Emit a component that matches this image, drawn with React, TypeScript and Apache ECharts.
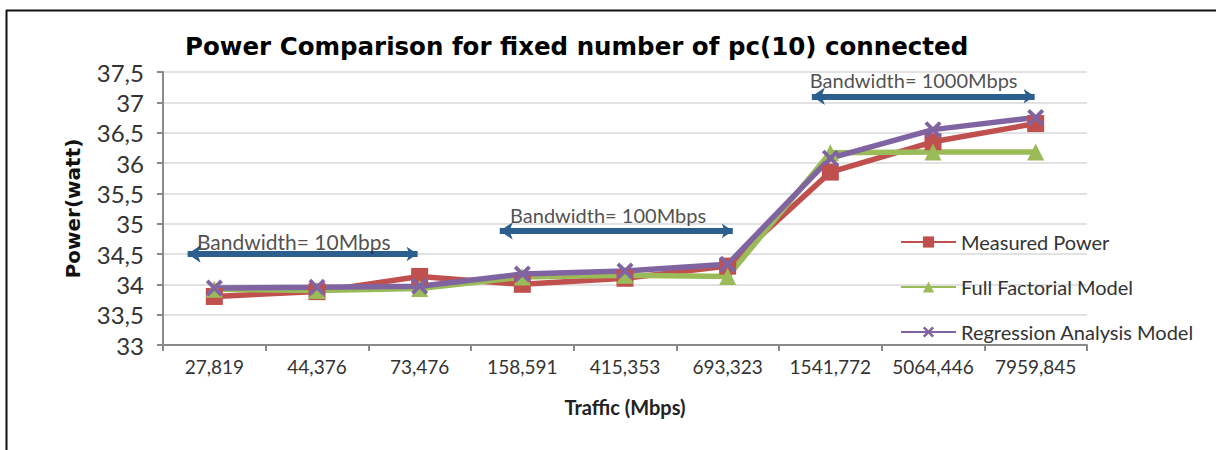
import React, { useEffect, useRef } from "react";
import * as echarts from "echarts";

const categories = ["27,819", "44,376", "73,476", "158,591", "415,353", "693,323", "1541,772", "5064,446", "7959,845"];
const measuredPower = [33.8, 33.88, 34.13, 34.0, 34.1, 34.3, 35.85, 36.35, 36.65];
const fullFactorial = [33.92, 33.9, 33.93, 34.12, 34.15, 34.13, 36.17, 36.18, 36.18];
const regression = [33.94, 33.95, 33.97, 34.17, 34.22, 34.33, 36.08, 36.55, 36.75];

// bandwidth annotations: [startX, endX, y] in category-span units (0..9) and watts
const bandLabels = ["Bandwidth= 10Mbps", "Bandwidth= 100Mbps", "Bandwidth= 1000Mbps"];
const bandStart = [0.24, 3.28, 6.32];
const bandEnd = [2.48, 5.55, 8.49];
const bandY = [34.5, 34.88, 37.1];
const bandTextX = [0.33, 3.38, 6.3];
const bandTextY = [34.71, 35.14, 37.37];
const bandFontSize = [21, 20, 20];

const FONT = "Lato, 'Open Sans', sans-serif";
const WIDE = "'DejaVu Sans', Verdana, sans-serif";
const X_SYMBOL =
  "path://M0,1.6 L1.6,0 L5,3.4 L8.4,0 L10,1.6 L6.6,5 L10,8.4 L8.4,10 L5,6.6 L1.6,10 L0,8.4 L3.4,5 Z";

export default function App() {
  const ref = useRef<HTMLDivElement>(null);
  useEffect(() => {
    document.body.style.margin = "0";
    const chart = echarts.init(ref.current!, null, { renderer: "svg" });
    const arrowColor = "#2D5F8E";
    chart.setOption({
      animation: false,
      backgroundColor: "#ffffff",
      title: {
        text: "Power Comparison for fixed number of pc(10) connected",
        left: 180,
        top: 29,
        textStyle: { fontFamily: WIDE, fontWeight: "bold", fontSize: 24.5, color: "#000" },
      },
      graphic: [
        { type: "line", shape: { x1: 6, y1: 10.5, x2: 1216, y2: 10.5 }, style: { stroke: "#111", lineWidth: 2 } },
        { type: "line", shape: { x1: 6.5, y1: 10, x2: 6.5, y2: 450 }, style: { stroke: "#111", lineWidth: 2 } },
      ],
      legend: {
        data: ["Measured Power", "Full Factorial Model", "Regression Analysis Model"],
        orient: "vertical",
        left: 900,
        top: 232,
        padding: 0,
        itemWidth: 55,
        itemHeight: 14,
        itemGap: 25,
        textStyle: { fontFamily: FONT, fontSize: 20, color: "#333" },
      },
      grid: { left: 163, right: 129, top: 72, bottom: 105, containLabel: false },
      xAxis: [
        {
          type: "category",
          data: categories,
          boundaryGap: true,
          name: "Traffic (Mbps)",
          nameLocation: "middle",
          nameGap: 52,
          nameTextStyle: { fontFamily: FONT, fontWeight: "bold", fontSize: 20, color: "#222" },
          axisLine: { lineStyle: { color: "#8a8a8a", width: 2 } },
          axisTick: { show: true, length: 6, lineStyle: { color: "#8a8a8a", width: 2 } },
          axisLabel: { interval: 0, fontFamily: FONT, fontSize: 19, color: "#333", margin: 12 },
        },
        { type: "value", min: 0, max: 9, show: false },
      ],
      yAxis: {
        type: "value",
        min: 33,
        max: 37.5,
        interval: 0.5,
        name: "Power(watt)",
        nameLocation: "middle",
        nameRotate: 90,
        nameGap: 80,
        nameTextStyle: { fontFamily: WIDE, fontWeight: "bold", fontSize: 20, color: "#111" },
        axisLine: { show: true, lineStyle: { color: "#8a8a8a", width: 2 } },
        axisTick: { show: true, length: 6, lineStyle: { color: "#8a8a8a", width: 2 } },
        axisLabel: {
          fontFamily: FONT,
          fontSize: 24,
          color: "#333",
          margin: 19,
          formatter: (v: number) => String(v).replace(".", ","),
        },
        splitLine: { lineStyle: { color: "#e2e2e2", width: 2 } },
      },
      series: [
        {
          name: "Measured Power",
          type: "line",
          data: measuredPower,
          symbol: "rect",
          symbolSize: 17,
          lineStyle: { width: 5.5, color: "#C0504D" },
          itemStyle: { color: "#C0504D" },
        },
        {
          name: "Full Factorial Model",
          type: "line",
          data: fullFactorial,
          symbol: "triangle",
          symbolSize: 17,
          lineStyle: { width: 5.5, color: "#9BBB59" },
          itemStyle: { color: "#9BBB59" },
        },
        {
          name: "Regression Analysis Model",
          type: "line",
          data: regression,
          symbol: X_SYMBOL,
          symbolSize: 17,
          lineStyle: { width: 5.5, color: "#8064A2" },
          itemStyle: { color: "#8064A2" },
        },
        {
          name: "bandArrows",
          type: "lines",
          coordinateSystem: "cartesian2d",
          xAxisIndex: 1,
          yAxisIndex: 0,
          symbol: ["arrow", "arrow"],
          symbolSize: [13, 11],
          lineStyle: { color: arrowColor, width: 6, opacity: 1, curveness: 0 },
          data: bandLabels.map((_, i) => ({
            coords: [
              [bandStart[i], bandY[i]],
              [bandEnd[i], bandY[i]],
            ],
          })),
          silent: true,
        },
        {
          name: "bandText",
          type: "scatter",
          xAxisIndex: 1,
          yAxisIndex: 0,
          symbolSize: 0,
          silent: true,
          label: {
            show: true,
            position: "right",
            distance: 0,
            formatter: (p: any) => p.name,
            fontFamily: FONT,
            color: "#222",
          },
          data: bandLabels.map((n, i) => ({
            name: n,
            value: [bandTextX[i], bandTextY[i]],
            label: { fontSize: bandFontSize[i] },
          })),
        },
      ],
    });
    return () => chart.dispose();
  }, []);
  return <div ref={ref} style={{ width: 1216, height: 450 }} />;
}
